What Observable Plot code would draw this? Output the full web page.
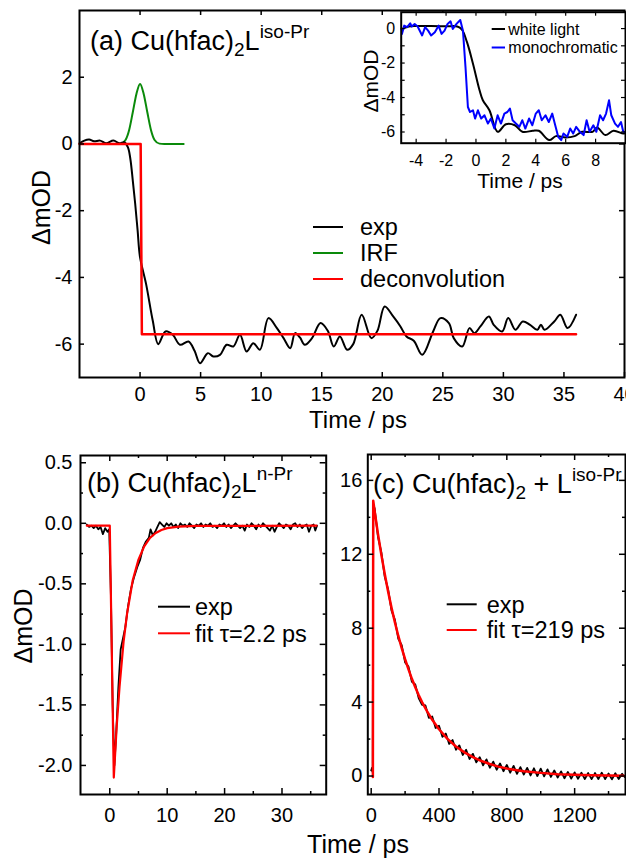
<!DOCTYPE html>
<html>
<head>
<meta charset="utf-8">
<script src="https://cdn.jsdelivr.net/npm/d3@7"></script>
<script src="https://cdn.jsdelivr.net/npm/@observablehq/plot@0.6"></script>
<style>
  html, body { margin: 0; padding: 0; background: white; }
  #fig { position: relative; width: 626px; height: 861px; overflow: hidden; }
  #fig > svg { position: absolute; }
</style>
</head>
<body>
<div id="fig"></div>
<script>
// ---------------- DATA ----------------
// Panel (a): Cu(hfac)2L^iso-Pr, [time ps, ΔmOD]
const aExp = [[-5,0.02],[-4.6,0.1],[-4.2,0.13],[-3.8,0.08],[-3.3,0.1],[-2.8,0.02],[-2.2,0.1],[-1.7,0.02],[-1.3,0.05],[-1.0,-0.1],[-0.8,-0.45],[-0.6,-1.1],[-0.4,-1.8],[-0.2,-2.6],[0,-3.4],[0.5,-4.2],[1.05,-5.3],[1.5,-6.0],[2.1,-5.62],[2.7,-5.72],[3.3,-6.02],[4.0,-5.92],[4.5,-6.2],[4.95,-6.57],[5.6,-6.27],[6.05,-6.37],[6.6,-6.32],[7.15,-6.02],[7.7,-6.07],[8.25,-5.72],[8.8,-6.22],[9.35,-5.97],[9.9,-6.17],[10.6,-5.22],[11.3,-5.52],[11.85,-5.82],[12.4,-6.12],[12.8,-5.67],[13.2,-5.8],[13.6,-6.02],[14.2,-5.82],[14.9,-5.37],[15.5,-5.6],[16.0,-6.07],[16.5,-5.77],[17.1,-6.17],[17.6,-6.0],[18.3,-5.12],[19.1,-5.82],[19.6,-5.6],[20.2,-4.87],[20.9,-5.17],[21.5,-5.47],[22.0,-5.77],[22.6,-5.9],[23.3,-6.32],[24.2,-5.62],[24.8,-5.22],[25.5,-5.37],[25.9,-5.82],[26.6,-6.07],[27.2,-5.52],[27.6,-5.67],[28.1,-5.47],[28.8,-5.17],[29.2,-5.42],[29.9,-5.62],[30.4,-5.22],[31.0,-5.57],[31.6,-5.32],[32.2,-5.42],[32.8,-5.57],[33.1,-5.42],[33.4,-5.57],[34.2,-5.32],[34.7,-5.12],[35.3,-5.52],[36.0,-5.12]];
const aIrf = [[-1.6,0],[-1.2,0.12],[-0.9,0.42],[-0.6,0.95],[-0.3,1.5],[0,1.8],[0.3,1.5],[0.6,0.95],[0.9,0.42],[1.2,0.12],[1.6,0.01],[2.0,0],[3.6,0]];
const aDeconv = [[-5,0],[0.05,0],[0.15,-5.7],[36,-5.7]];
const aXTicks = [0,5,10,15,20,25,30,35,40];
const aYTicks = [-6,-4,-2,0,2];

// Inset: white light vs monochromatic
const insWhite = [[-5,-0.05],[-4.5,0.12],[-4,0.15],[-3,0.15],[-2,0.13],[-1.25,0.12],[-0.94,-0.06],[-0.6,-0.79],[-0.2,-2.04],[0.24,-3.58],[0.46,-4.16],[0.9,-4.74],[1.45,-5.99],[2.0,-5.55],[2.6,-5.61],[3.1,-5.99],[3.8,-5.93],[4.2,-5.93],[4.9,-6.47],[5.35,-6.24],[6.0,-6.32],[6.6,-6.24],[7.1,-5.99],[7.8,-5.99],[8.1,-5.74],[8.65,-6.18],[9.2,-5.93],[9.85,-6.09],[10,-6.05]];
const insMono = [[-4.95,-0.31],[-4.8,0.17],[-4.6,0.08],[-4.4,0.31],[-4.3,0.12],[-4.1,0.27],[-3.9,0.12],[-3.6,-0.4],[-3.4,0.08],[-3.2,-0.12],[-3.0,-0.4],[-2.75,-0.21],[-2.5,0.17],[-2.3,-0.31],[-2.1,-0.12],[-1.9,0.27],[-1.7,0.42],[-1.55,-0.02],[-1.3,0.27],[-1.05,0.5],[-0.87,-0.12],[-0.7,-2.24],[-0.54,-4.55],[-0.4,-4.84],[-0.2,-4.74],[-0.06,-5.22],[0.13,-4.74],[0.35,-5.22],[0.57,-5.03],[0.8,-5.51],[1.0,-5.22],[1.23,-5.8],[1.45,-5.03],[1.67,-5.51],[1.9,-4.93],[2.1,-4.84],[2.27,-4.64],[2.45,-5.32],[2.67,-5.51],[2.9,-5.7],[3.1,-5.32],[3.3,-5.8],[3.55,-5.22],[3.77,-5.61],[4.0,-4.93],[4.2,-4.74],[4.4,-5.32],[4.65,-5.03],[4.87,-5.42],[5.1,-4.93],[5.3,-5.61],[5.5,-6.28],[5.7,-6.47],[5.85,-6.09],[6.1,-6.28],[6.3,-5.8],[6.5,-6.09],[6.7,-5.7],[6.95,-5.99],[7.2,-6.18],[7.4,-5.32],[7.6,-5.99],[7.85,-5.61],[8.05,-5.99],[8.3,-5.03],[8.5,-5.32],[8.7,-4.93],[8.9,-4.16],[9.05,-5.03],[9.3,-5.51],[9.5,-5.7],[9.7,-5.42],[9.85,-5.99],[10,-6.0]];
const insXTicks = [-4,-2,0,2,4,6,8];
const insYTicks = [-6,-4,-2,0];
const insYMinor = [-5,-3,-1];

// Panel (b): Cu(hfac)2L^n-Pr
const bExp = [[-4.0,-0.01],[-3.6,-0.03],[-3.2,-0.02],[-2.8,-0.04],[-2.4,-0.02],[-2.0,-0.05],[-1.6,-0.03],[-1.2,-0.09],[-0.8,-0.04],[-0.4,-0.07],[-0.1,-0.05],[0.2,-0.6],[0.5,-1.5],[0.8,-2.0],[1.1,-1.75],[1.5,-1.35],[1.9,-1.04],[2.3,-0.95],[2.7,-0.86],[3.2,-0.68],[3.7,-0.54],[4.2,-0.45],[4.8,-0.36],[5.3,-0.3],[5.8,-0.2],[6.3,-0.15],[6.8,-0.12],[7.1,-0.05],[7.5,-0.1],[7.9,-0.07],[8.3,-0.03],[8.7,0.01],[9.1,-0.01],[9.5,-0.03],[9.9,0.0],[10.3,-0.02],[10.7,0.0],[11.1,-0.03],[11.5,-0.01],[11.9,-0.04],[12.3,0.0],[12.7,-0.02],[13.1,-0.01],[13.5,-0.03],[13.9,0.0],[14.3,-0.02],[14.7,-0.04],[15.1,-0.01],[15.5,-0.02],[15.9,0.0],[16.3,-0.03],[16.7,-0.01],[17.1,-0.02],[17.5,0.0],[17.9,-0.03],[18.3,-0.02],[18.7,-0.04],[19.1,-0.01],[19.5,-0.02],[19.9,0.0],[20.3,-0.03],[20.7,-0.01],[21.1,-0.04],[21.5,-0.02],[21.9,0.0],[22.3,-0.02],[22.7,-0.04],[23.1,-0.02],[23.5,-0.06],[23.9,-0.01],[24.3,-0.03],[24.7,0.0],[25.1,-0.02],[25.5,-0.05],[25.9,-0.01],[26.3,-0.03],[26.7,0.0],[27.1,-0.02],[27.5,-0.04],[27.9,-0.06],[28.3,-0.02],[28.7,-0.07],[29.1,-0.03],[29.5,0.0],[29.9,-0.02],[30.3,-0.04],[30.7,-0.01],[31.1,-0.02],[31.5,-0.05],[31.9,-0.01],[32.3,0.0],[32.7,-0.03],[33.1,-0.01],[33.5,-0.04],[33.9,-0.02],[34.3,-0.01],[34.7,-0.07],[35.1,-0.02],[35.5,-0.01],[35.8,-0.06],[36.1,-0.02]];
const bFit = [[-4,-0.02],[0,-0.02],[0.7,-2.1],[1.2,-1.68],[1.7,-1.35],[2.4,-0.98],[3.0,-0.75],[4.0,-0.47],[5.0,-0.3],[6.0,-0.19],[7.0,-0.12],[8.0,-0.08],[9.0,-0.055],[10,-0.04],[12,-0.027],[15,-0.021],[36,-0.02]];
const bXTicks = [0,10,20,30];
const bXMinor = [5,15,25,35];
const bYTicks = [-2,-1.5,-1,-0.5,0,0.5];
const bYMinor = [-1.75,-1.25,-0.75,-0.25,0.25];

// Panel (c): Cu(hfac)2 + L^iso-Pr
const cExp = [[0,0.3],[5,0.45],[9,0.2],[12,14.6],[20,14.5],[40,12.95],[60,12.1],[80,10.78],[100,10.1],[120,8.95],[140,8.45],[160,7.42],[180,7.08],[200,6.15],[220,5.92],[240,5.1],[260,4.96],[280,4.22],[300,3.85],[320,3.82],[340,3.15],[360,3.22],[380,2.6],[400,2.72],[420,2.12],[440,2.3],[460,1.74],[480,1.95],[500,1.42],[520,1.66],[540,1.14],[560,1.42],[580,0.92],[600,1.2],[620,0.74],[640,1.02],[660,0.58],[680,0.9],[700,0.45],[720,0.78],[740,0.34],[760,0.68],[780,0.26],[800,0.6],[820,0.18],[840,0.55],[860,0.12],[880,0.48],[900,0.08],[920,0.44],[940,0.03],[960,0.42],[980,0.0],[1000,0.4],[1020,-0.02],[1040,0.36],[1060,-0.05],[1080,0.3],[1100,-0.08],[1120,0.25],[1140,-0.12],[1160,0.22],[1180,-0.14],[1200,0.2],[1220,-0.15],[1240,0.18],[1260,-0.16],[1280,0.16],[1300,-0.17],[1320,0.16],[1340,-0.16],[1360,0.18],[1380,-0.17],[1400,0.14],[1420,-0.18],[1440,0.15],[1460,-0.16],[1480,0.12],[1495,-0.05]];
const cFit = [[10,-0.05],[12,14.9],[20,14.36],[40,13.1],[60,11.97],[80,10.93],[100,9.97],[120,9.1],[140,8.31],[160,7.58],[180,6.92],[200,6.32],[220,5.77],[240,5.26],[260,4.8],[280,4.38],[300,4.0],[330,3.5],[360,3.04],[400,2.53],[450,2.01],[500,1.6],[550,1.28],[600,1.02],[650,0.81],[700,0.65],[750,0.51],[800,0.41],[850,0.33],[900,0.26],[1000,0.17],[1100,0.1],[1200,0.07],[1300,0.04],[1400,0.03],[1490,0.02]];
const cXTicks = [0,400,800,1200];
const cXMinor = [200,600,1000,1400];
const cYTicks = [0,4,8,12,16];
const cYMinor = [2,6,10,14];

// ---------------- HELPERS ----------------
const FONT = "'Liberation Sans', Arial, Helvetica, sans-serif";
const fig = document.getElementById("fig");
const px = d => d[0], py = d => d[1];
const fmtInt = d => String(d);
const fmt1 = d => d.toFixed(1);

function inTicks(vals, axis, len, iw, ih, sw) {
  if (axis === "x") return [
    Plot.tickX(vals, {x: d => d, insetTop: ih - len, stroke: "black", strokeWidth: sw}),
    Plot.tickX(vals, {x: d => d, insetBottom: ih - len, stroke: "black", strokeWidth: sw})
  ];
  return [
    Plot.tickY(vals, {y: d => d, insetLeft: iw - len, stroke: "black", strokeWidth: sw}),
    Plot.tickY(vals, {y: d => d, insetRight: iw - len, stroke: "black", strokeWidth: sw})
  ];
}
function place(svg, left, top) {
  svg.style.left = left + "px";
  svg.style.top = top + "px";
  fig.appendChild(svg);
}

// ---------------- PANEL (a) ----------------
{
  const W = 626, H = 440, mL = 79, mR = 2, mT = 10, mB = 63;
  const iw = W - mL - mR, ih = H - mT - mB;
  const p = Plot.plot({
    width: W, height: H, marginLeft: mL, marginRight: mR, marginTop: mT, marginBottom: mB,
    x: {domain: [-5, 40]}, y: {domain: [-7, 4]},
    style: {fontFamily: FONT, fontSize: "20px", background: "transparent", overflow: "visible", color: "black"},
    marks: [
      Plot.line(aIrf, {x: px, y: py, stroke: "#0a8a0a", strokeWidth: 2, curve: "monotone-x"}),
      Plot.line(aExp, {x: px, y: py, stroke: "black", strokeWidth: 2, curve: "catmull-rom"}),
      Plot.line(aDeconv, {x: px, y: py, stroke: "#ff0000", strokeWidth: 2.5}),
      ...inTicks(aXTicks, "x", 5, iw, ih, 1.5),
      ...inTicks(aYTicks, "y", 5, iw, ih, 1.5),
      Plot.axisX(aXTicks, {tickSize: 0, tickPadding: 9, tickFormat: fmtInt, label: null}),
      Plot.axisY(aYTicks, {tickSize: 0, tickPadding: 7, tickFormat: fmtInt, label: null}),
      Plot.frame({stroke: "black", strokeWidth: 2})
    ]
  });
  place(p, 0, 0);
}

// ---------------- INSET ----------------
{
  const W = 296, H = 200, mL = 70.7, mR = 1, mT = 11.7, mB = 57.3;
  const iw = W - mL - mR, ih = H - mT - mB;
  const p = Plot.plot({
    width: W, height: H, marginLeft: mL, marginRight: mR, marginTop: mT, marginBottom: mB,
    x: {domain: [-5, 10]}, y: {domain: [-6.65, 0.95]},
    style: {fontFamily: FONT, fontSize: "16px", background: "transparent", overflow: "visible", color: "black"},
    marks: [
      Plot.frame({fill: "white", stroke: "none"}),
      Plot.line(insWhite, {x: px, y: py, stroke: "black", strokeWidth: 2, clip: true, curve: "catmull-rom"}),
      Plot.line(insMono, {x: px, y: py, stroke: "#0000ff", strokeWidth: 2, clip: true}),
      ...inTicks(insXTicks, "x", 4, iw, ih, 1.2),
      ...inTicks(insYTicks, "y", 4, iw, ih, 1.2),
      ...inTicks(insYMinor, "y", 4, iw, ih, 1.2),
      Plot.axisX(insXTicks, {tickSize: 0, tickPadding: 11, tickFormat: fmtInt, label: null}),
      Plot.axisY(insYTicks, {tickSize: 0, tickPadding: 6, tickFormat: fmtInt, label: null}),
      Plot.frame({stroke: "black", strokeWidth: 2})
    ]
  });
  place(p, 330, 0);
}

// ---------------- PANEL (b) ----------------
{
  const W = 330, H = 421, mL = 80, mR = 4.3, mT = 15, mB = 67;
  const iw = W - mL - mR, ih = H - mT - mB;
  const p = Plot.plot({
    width: W, height: H, marginLeft: mL, marginRight: mR, marginTop: mT, marginBottom: mB,
    x: {domain: [-5.1, 37.7]}, y: {domain: [-2.24, 0.56]},
    style: {fontFamily: FONT, fontSize: "20px", background: "transparent", overflow: "visible", color: "black"},
    marks: [
      Plot.line(bExp, {x: px, y: py, stroke: "black", strokeWidth: 1.8}),
      Plot.line(bFit, {x: px, y: py, stroke: "#ff0000", strokeWidth: 2.2}),
      ...inTicks(bXTicks, "x", 6, iw, ih, 1.5),
      ...inTicks(bXMinor, "x", 3, iw, ih, 1.5),
      ...inTicks(bYTicks, "y", 6, iw, ih, 1.5),
      ...inTicks(bYMinor, "y", 3, iw, ih, 1.5),
      Plot.axisX(bXTicks, {tickSize: 0, tickPadding: 13, tickFormat: fmtInt, label: null}),
      Plot.axisY(bYTicks, {tickSize: 0, tickPadding: 8, tickFormat: fmt1, label: null}),
      Plot.frame({stroke: "black", strokeWidth: 2})
    ]
  });
  place(p, 0, 440);
}

// ---------------- PANEL (c) ----------------
{
  const W = 296, H = 421, mL = 37.3, mR = 1, mT = 14, mB = 67;
  const iw = W - mL - mR, ih = H - mT - mB;
  const p = Plot.plot({
    width: W, height: H, marginLeft: mL, marginRight: mR, marginTop: mT, marginBottom: mB,
    x: {domain: [-20, 1500]}, y: {domain: [-1, 17.4]},
    style: {fontFamily: FONT, fontSize: "20px", background: "transparent", overflow: "visible", color: "black"},
    marks: [
      Plot.line(cExp, {x: px, y: py, stroke: "black", strokeWidth: 1.8}),
      Plot.line(cFit, {x: px, y: py, stroke: "#ff0000", strokeWidth: 2.5}),
      ...inTicks(cXTicks, "x", 6, iw, ih, 1.5),
      ...inTicks(cXMinor, "x", 3, iw, ih, 1.5),
      ...inTicks(cYTicks, "y", 6, iw, ih, 1.5),
      ...inTicks(cYMinor, "y", 3, iw, ih, 1.5),
      Plot.axisX(cXTicks, {tickSize: 0, tickPadding: 13, tickFormat: fmtInt, label: null}),
      Plot.axisY(cYTicks, {tickSize: 0, tickPadding: 5.5, tickFormat: fmtInt, label: null}),
      Plot.frame({stroke: "black", strokeWidth: 2})
    ]
  });
  place(p, 330, 440);
}

// ---------------- ANNOTATIONS (titles, legends, axis titles) ----------------
const ov = d3.select(fig).append("svg")
  .attr("width", 626).attr("height", 861)
  .style("left", "0px").style("top", "0px")
  .style("font-family", FONT).style("pointer-events", "none");

function title(x, y, parts) {
  const t = ov.append("text").attr("x", x).attr("y", y).attr("fill", "black").style("white-space", "pre");
  let cur = 0;
  for (const [s, size, shift] of parts) {
    t.append("tspan").attr("font-size", size).attr("dy", shift - cur).text(s);
    cur = shift;
  }
}
title(90, 50, [["(a) Cu(hfac)", 27, 0], ["2", 19, 6], ["L", 27, 0], ["iso-Pr", 19, -12]]);
title(87, 492, [["(b) Cu(hfac)", 27, 0], ["2", 19, 6], ["L", 27, 0], ["n-Pr", 19, -12]]);
title(373, 493, [["(c) Cu(hfac)", 27, 0], ["2", 19, 6], [" + L", 27, 0], ["iso-Pr", 19, -12]]);

function legend(x1, x2, tx, y, color, label, size, sw) {
  ov.append("line").attr("x1", x1).attr("x2", x2).attr("y1", y).attr("y2", y)
    .attr("stroke", color).attr("stroke-width", sw);
  ov.append("text").attr("x", tx).attr("y", y + size * 0.36).attr("font-size", size)
    .attr("fill", "black").style("white-space", "pre").text(label);
}
legend(313, 343, 360, 227, "black", "exp", 23.5, 2);
legend(313, 343, 360, 253, "#0a8a0a", "IRF", 23.5, 2);
legend(313, 343, 360, 279, "#ff0000", "deconvolution", 23.5, 2);
legend(491.7, 505, 508.3, 29, "black", "white light", 16, 2);
legend(491.7, 505, 508.3, 47.5, "#0000ff", "monochromatic", 16, 2);
legend(158, 190, 195, 606.7, "black", "exp", 23.5, 2);
legend(158, 190, 195, 633.3, "#ff0000", "fit τ=2.2 ps", 23.5, 2);
legend(446.7, 476.7, 486.7, 604.3, "black", "exp", 23.5, 2);
legend(446.7, 476.7, 486.7, 630, "#ff0000", "fit τ=219 ps", 23.5, 2);

function ylab(x, y, size, s) {
  ov.append("text").attr("transform", `translate(${x},${y}) rotate(-90)`)
    .attr("text-anchor", "middle").attr("font-size", size).attr("fill", "black").text(s);
}
function xlab(x, y, size, s) {
  ov.append("text").attr("x", x).attr("y", y).attr("text-anchor", "middle")
    .attr("font-size", size).attr("fill", "black").text(s);
}
ylab(50, 207.5, 25, "ΔmOD");
ylab(32, 626, 25, "ΔmOD");
ylab(378, 81, 21, "ΔmOD");
xlab(358, 428, 24, "Time / ps");
xlab(358, 853, 25, "Time / ps");
xlab(520, 188, 21, "Time / ps");
</script>
</body>
</html>
